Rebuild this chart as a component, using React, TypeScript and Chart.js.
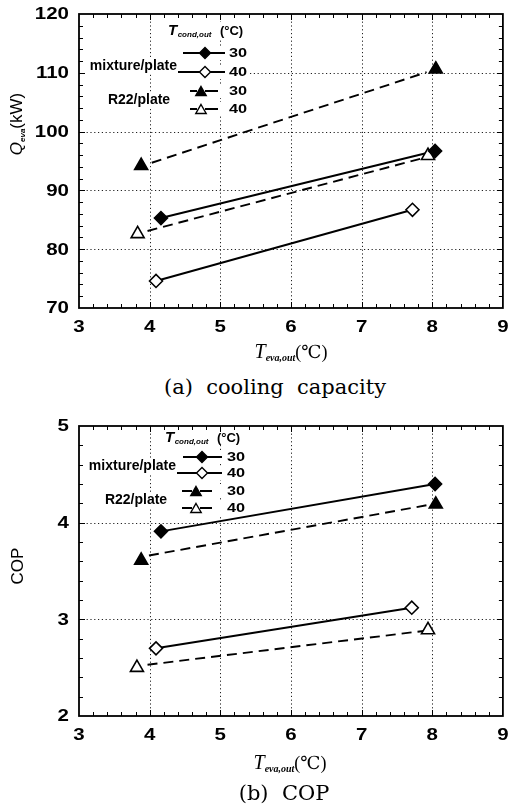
import React, { useEffect, useRef } from "react";
import { Chart, registerables } from "chart.js";

Chart.register(...registerables);

// ---------- (a) cooling capacity: Q_eva (kW) vs T_eva,out (°C) ----------
const capMix30X = [4.16, 8.04];
const capMix30Y = [85.3, 96.7];
const capMix40X = [4.09, 7.72];
const capMix40Y = [74.6, 86.7];
const capR22_30X = [3.88, 8.05];
const capR22_30Y = [94.2, 110.6];
const capR22_40X = [3.83, 7.94];
const capR22_40Y = [82.6, 95.9];
// trend lines drawn through the R22 runs
const capR22_30LineX = [4.03, 7.92];
const capR22_30LineY = [94.7, 110.1];
const capR22_40LineX = [3.97, 7.9];
const capR22_40LineY = [83.1, 95.6];

// ---------- (b) COP vs T_eva,out (°C) ----------
const copMix30X = [4.16, 8.04];
const copMix30Y = [3.91, 4.4];
const copMix40X = [4.09, 7.71];
const copMix40Y = [2.7, 3.12];
const copR22_30X = [3.88, 8.05];
const copR22_30Y = [3.61, 4.19];
const copR22_40X = [3.82, 7.94];
const copR22_40Y = [2.5, 2.89];
const copR22_30LineX = [3.99, 7.92];
const copR22_30LineY = [3.66, 4.18];
const copR22_40LineX = [3.97, 7.88];
const copR22_40LineY = [2.53, 2.88];

// ---------- axes and labels ----------
const xTicks = [3, 4, 5, 6, 7, 8, 9];
const capTicks = [70, 80, 90, 100, 110, 120];
const copTicks = [2, 3, 4, 5];
const xMinorStep = 0.2;
const capMinorStep = 2;
const copMinorStep = 0.2;
const groupLabels = ["mixture/plate", "R22/plate"];
const condTemps = ["30", "40", "30", "40"];
const captionA = "(a)  cooling  capacity";
const captionB = "(b)  COP";

const SANS = '"Liberation Sans", Arial, sans-serif';
const SERIF = '"Liberation Serif", "DejaVu Serif", "Noto Sans CJK KR", serif';
const TICK_FONT = `bold 16px ${SANS}`;
const TICK_STRETCH = 1.28;

type Series = {
  mx: number[];
  my: number[];
  lx: number[];
  ly: number[];
  filled: boolean;
  shape: "rectRot" | "triangle";
  dashed: boolean;
};

const pts = (xs: number[], ys: number[]) => xs.map((x, i) => ({ x, y: ys[i] }));

function buildDatasets(series: Series[]) {
  const markers = series.map((s) => ({
    data: pts(s.mx, s.my),
    showLine: false,
    pointStyle: s.shape,
    pointRadius: s.shape === "triangle" ? 7.5 : 6.5,
    pointBackgroundColor: s.filled ? "#000" : "#fff",
    pointBorderColor: "#000",
    pointBorderWidth: 1.6,
    order: 0,
  }));
  const lines = series.map((s) => ({
    data: pts(s.lx, s.ly),
    showLine: true,
    pointRadius: 0,
    borderColor: "#000",
    borderWidth: s.dashed ? 1.9 : 2,
    borderDash: s.dashed ? [10, 6] : [],
    fill: false,
    order: 1,
  }));
  return [...markers, ...lines];
}

function diamond(ctx: CanvasRenderingContext2D, x: number, y: number, r: number, filled: boolean) {
  ctx.beginPath();
  ctx.moveTo(x, y - r);
  ctx.lineTo(x + r, y);
  ctx.lineTo(x, y + r);
  ctx.lineTo(x - r, y);
  ctx.closePath();
  ctx.fillStyle = filled ? "#000" : "#fff";
  ctx.fill();
  ctx.lineWidth = 1.4;
  ctx.strokeStyle = "#000";
  ctx.stroke();
}

function triangle(ctx: CanvasRenderingContext2D, x: number, y: number, r: number, filled: boolean) {
  const cy = y + 0.25 * r;
  ctx.beginPath();
  ctx.moveTo(x, cy - r);
  ctx.lineTo(x + 0.866 * r, cy + 0.5 * r);
  ctx.lineTo(x - 0.866 * r, cy + 0.5 * r);
  ctx.closePath();
  ctx.fillStyle = filled ? "#000" : "#fff";
  ctx.fill();
  ctx.lineWidth = 1.4;
  ctx.strokeStyle = "#000";
  ctx.stroke();
}

// wide-set label text (horizontal stretch about the anchor point)
function stretchedText(
  ctx: CanvasRenderingContext2D,
  text: string,
  x: number,
  y: number,
  font: string,
  sx: number,
  align: CanvasTextAlign
) {
  ctx.save();
  ctx.translate(x, y);
  ctx.scale(sx, 1);
  ctx.font = font;
  ctx.textAlign = align;
  ctx.textBaseline = "middle";
  ctx.fillStyle = "#000";
  ctx.fillText(text, 0, 0);
  ctx.restore();
}

type Piece = { text: string; font: string; dy: number };

function drawPieces(ctx: CanvasRenderingContext2D, pieces: Piece[], cx: number, cy: number) {
  let total = 0;
  const widths = pieces.map((p) => {
    ctx.font = p.font;
    const w = ctx.measureText(p.text).width;
    total += w;
    return w;
  });
  let x = cx - total / 2;
  ctx.textAlign = "left";
  ctx.textBaseline = "alphabetic";
  ctx.fillStyle = "#000";
  pieces.forEach((p, i) => {
    ctx.font = p.font;
    ctx.fillText(p.text, x, cy + p.dy);
    x += widths[i];
  });
}

type Layout = {
  titleX: number;
  titleY: number;
  rows: number[];
  mixY: number;
  r22Y: number;
  solidStart: number;
  row2Start: number;
  solidEnd: number;
  solidMarker: number;
  dashStart: number;
  dashMarker: number;
  dashEnd: number;
  numX: number;
  mixRight: number;
  r22Center: number;
  yTitle: Piece[];
  yTitleX: number;
  yTitleY: number;
  xTitleX: number;
  xTitleY: number;
};

type PanelCfg = {
  series: Series[];
  yTicks: number[];
  yMinor: number;
  height: number;
  padTop: number;
  padBottom: number;
  layout: Layout;
};

function whiteBox(ctx: CanvasRenderingContext2D, x: number, y: number, w: number, h: number) {
  ctx.fillStyle = "#fff";
  ctx.fillRect(x, y, w, h);
}

function makeDecor(cfg: PanelCfg) {
  const L = cfg.layout;
  const yMin = cfg.yTicks[0];
  const yMax = cfg.yTicks[cfg.yTicks.length - 1];
  const yStep = cfg.yTicks[1] - cfg.yTicks[0];
  const xMin = xTicks[0];
  const xMax = xTicks[xTicks.length - 1];
  return {
    id: "panelDecor",
    beforeDatasetsDraw(chart: any) {
      const { ctx, chartArea: a, scales } = chart;
      const xs = scales.x;
      const ys = scales.y;
      ctx.save();
      ctx.strokeStyle = "#222";
      ctx.lineWidth = 1;
      ctx.setLineDash([1.2, 2.6]);
      for (let i = 1; i < xTicks.length - 1; i++) {
        const px = Math.round(xs.getPixelForValue(xTicks[i])) + 0.5;
        ctx.beginPath();
        ctx.moveTo(px, a.top);
        ctx.lineTo(px, a.bottom);
        ctx.stroke();
      }
      for (let i = 1; i < cfg.yTicks.length - 1; i++) {
        const py = Math.round(ys.getPixelForValue(cfg.yTicks[i])) + 0.5;
        ctx.beginPath();
        ctx.moveTo(a.left, py);
        ctx.lineTo(a.right, py);
        ctx.stroke();
      }
      ctx.restore();
    },
    afterDatasetsDraw(chart: any) {
      const { ctx, chartArea: a, scales } = chart;
      const xs = scales.x;
      const ys = scales.y;
      ctx.save();
      ctx.setLineDash([]);

      // ---- legend ----
      // title: T_cond,out (°C)
      const tFont = `italic bold 15px ${SANS}`;
      const sFont = `italic bold 8px ${SANS}`;
      const cFont = `bold 13px ${SANS}`;
      ctx.textBaseline = "alphabetic";
      ctx.textAlign = "left";
      ctx.font = tFont;
      const wT = ctx.measureText("T").width;
      ctx.font = sFont;
      const wS = ctx.measureText("cond,out").width;
      ctx.font = cFont;
      const wC = ctx.measureText("(°C)").width;
      const base = L.titleY + 5;
      whiteBox(ctx, L.titleX - 2, L.titleY - 8, wT + wS + wC + 12, 16);
      ctx.fillStyle = "#000";
      ctx.font = tFont;
      ctx.fillText("T", L.titleX, base);
      ctx.font = sFont;
      ctx.fillText("cond,out", L.titleX + wT + 0.5, base + 2);
      ctx.font = cFont;
      ctx.fillText("(°C)", L.titleX + wT + wS + 9, base);

      // group labels
      ctx.font = `bold 14px ${SANS}`;
      ctx.textBaseline = "middle";
      whiteBox(ctx, a.left + 1, L.mixY - 8, L.mixRight - a.left, 16);
      ctx.fillStyle = "#000";
      ctx.textAlign = "right";
      ctx.fillText(groupLabels[0], L.mixRight, L.mixY);
      const wR = ctx.measureText(groupLabels[1]).width;
      whiteBox(ctx, L.r22Center - wR / 2 - 3, L.r22Y - 8, wR + 6, 16);
      ctx.fillStyle = "#000";
      ctx.textAlign = "center";
      ctx.fillText(groupLabels[1], L.r22Center, L.r22Y);

      // rows
      const numFont = `bold 13px ${SANS}`;
      cfg.series.forEach((s, i) => {
        const y = L.rows[i];
        const start = s.dashed ? L.dashStart : i === 1 ? L.row2Start : L.solidStart;
        ctx.font = numFont;
        const wN = ctx.measureText(condTemps[i]).width * 1.25;
        whiteBox(ctx, start - 1, y - 7, L.numX + wN + 2 - start, 14);
        ctx.strokeStyle = "#000";
        ctx.lineWidth = 1.8;
        ctx.beginPath();
        if (s.dashed) {
          ctx.moveTo(L.dashStart, y);
          ctx.lineTo(L.dashMarker - 4, y);
          ctx.moveTo(L.dashMarker + 4, y);
          ctx.lineTo(L.dashEnd, y);
        } else {
          ctx.moveTo(start, y);
          ctx.lineTo(L.solidEnd, y);
        }
        ctx.stroke();
        if (s.shape === "rectRot") diamond(ctx, L.solidMarker, y, 5.5, s.filled);
        else triangle(ctx, L.dashMarker, y, 6, s.filled);
        stretchedText(ctx, condTemps[i], L.numX, y + 0.5, numFont, 1.25, "left");
      });

      // ---- inward tick marks and frame ----
      ctx.strokeStyle = "#000";
      ctx.lineWidth = 1;
      const nx = Math.round((xMax - xMin) / xMinorStep);
      for (let k = 1; k < nx; k++) {
        const v = xMin + k * xMinorStep;
        const major = k % Math.round(1 / xMinorStep) === 0;
        const len = major ? 6 : 4;
        const px = Math.round(xs.getPixelForValue(v)) + 0.5;
        ctx.beginPath();
        ctx.moveTo(px, a.bottom);
        ctx.lineTo(px, a.bottom - len);
        ctx.moveTo(px, a.top);
        ctx.lineTo(px, a.top + len);
        ctx.stroke();
      }
      const ny = Math.round((yMax - yMin) / cfg.yMinor);
      const per = Math.round(yStep / cfg.yMinor);
      for (let k = 1; k < ny; k++) {
        const v = yMin + k * cfg.yMinor;
        const major = k % per === 0;
        const len = major ? 6 : 4;
        const py = Math.round(ys.getPixelForValue(v)) + 0.5;
        ctx.beginPath();
        ctx.moveTo(a.left, py);
        ctx.lineTo(a.left + len, py);
        ctx.moveTo(a.right, py);
        ctx.lineTo(a.right - len, py);
        ctx.stroke();
      }
      ctx.lineWidth = 1.8;
      ctx.strokeRect(a.left, a.top, a.right - a.left, a.bottom - a.top);

      // ---- tick labels, placed by the scales ----
      xTicks.forEach((v) => {
        stretchedText(ctx, String(v), xs.getPixelForValue(v), a.bottom + 20, TICK_FONT, TICK_STRETCH, "center");
      });
      cfg.yTicks.forEach((v) => {
        stretchedText(ctx, String(v), a.left - 10, ys.getPixelForValue(v) + 1, TICK_FONT, TICK_STRETCH, "right");
      });

      // ---- axis titles ----
      drawPieces(
        ctx,
        [
          { text: "T", font: `italic 20px ${SERIF}`, dy: 0 },
          { text: "eva,out", font: `italic bold 10px ${SERIF}`, dy: 3 },
          { text: "(℃)", font: `18px ${SERIF}`, dy: 0 },
        ],
        L.xTitleX,
        L.xTitleY + 7
      );
      ctx.save();
      ctx.translate(L.yTitleX, L.yTitleY);
      ctx.rotate(-Math.PI / 2);
      drawPieces(ctx, L.yTitle, 0, 6);
      ctx.restore();

      ctx.restore();
    },
  };
}

const capSeries: Series[] = [
  { mx: capMix30X, my: capMix30Y, lx: capMix30X, ly: capMix30Y, filled: true, shape: "rectRot", dashed: false },
  { mx: capMix40X, my: capMix40Y, lx: capMix40X, ly: capMix40Y, filled: false, shape: "rectRot", dashed: false },
  { mx: capR22_30X, my: capR22_30Y, lx: capR22_30LineX, ly: capR22_30LineY, filled: true, shape: "triangle", dashed: true },
  { mx: capR22_40X, my: capR22_40Y, lx: capR22_40LineX, ly: capR22_40LineY, filled: false, shape: "triangle", dashed: true },
];

const copSeries: Series[] = [
  { mx: copMix30X, my: copMix30Y, lx: copMix30X, ly: copMix30Y, filled: true, shape: "rectRot", dashed: false },
  { mx: copMix40X, my: copMix40Y, lx: copMix40X, ly: copMix40Y, filled: false, shape: "rectRot", dashed: false },
  { mx: copR22_30X, my: copR22_30Y, lx: copR22_30LineX, ly: copR22_30LineY, filled: true, shape: "triangle", dashed: true },
  { mx: copR22_40X, my: copR22_40Y, lx: copR22_40LineX, ly: copR22_40LineY, filled: false, shape: "triangle", dashed: true },
];

const capCfg: PanelCfg = {
  series: capSeries,
  yTicks: capTicks,
  yMinor: capMinorStep,
  height: 370,
  padTop: 14,
  padBottom: 22,
  layout: {
    titleX: 168,
    titleY: 30,
    rows: [53, 72, 91, 109],
    mixY: 66,
    r22Y: 100,
    solidStart: 183,
    row2Start: 178,
    solidEnd: 225,
    solidMarker: 205,
    dashStart: 190,
    dashMarker: 201,
    dashEnd: 218,
    numX: 229,
    mixRight: 177,
    r22Center: 139,
    yTitle: [
      { text: "Q", font: `italic 17px ${SANS}`, dy: 0 },
      { text: "eva", font: `italic bold 8px ${SANS}`, dy: 3 },
      { text: "(kW)", font: `17px ${SANS}`, dy: 0 },
    ],
    yTitleX: 16,
    yTitleY: 124,
    xTitleX: 291,
    xTitleY: 351,
  },
};

const copCfg: PanelCfg = {
  series: copSeries,
  yTicks: copTicks,
  yMinor: copMinorStep,
  height: 385,
  padTop: 26,
  padBottom: 29,
  layout: {
    titleX: 165,
    titleY: 37,
    rows: [57, 73, 91, 108],
    mixY: 66,
    r22Y: 100,
    solidStart: 183,
    row2Start: 177,
    solidEnd: 222,
    solidMarker: 202,
    dashStart: 182,
    dashMarker: 196,
    dashEnd: 212,
    numX: 227,
    mixRight: 176,
    r22Center: 136,
    yTitle: [{ text: "COP", font: `17px ${SANS}`, dy: 0 }],
    yTitleX: 17,
    yTitleY: 166,
    xTitleX: 290,
    xTitleY: 362,
  },
};

function Panel({ cfg, top }: { cfg: PanelCfg; top: number }) {
  const ref = useRef<HTMLCanvasElement>(null);
  useEffect(() => {
    if (!ref.current) return;
    const chart = new Chart(ref.current, {
      type: "scatter",
      data: { datasets: buildDatasets(cfg.series) as any },
      options: {
        animation: false,
        responsive: false,
        maintainAspectRatio: false,
        layout: { padding: { left: 0, right: 4, top: cfg.padTop, bottom: cfg.padBottom } },
        plugins: { legend: { display: false }, tooltip: { enabled: false } },
        scales: {
          x: {
            type: "linear",
            min: xTicks[0],
            max: xTicks[xTicks.length - 1],
            ticks: { stepSize: xTicks[1] - xTicks[0], display: false },
            grid: { display: false, drawTicks: false },
            border: { display: false },
            afterFit: (s: any) => {
              s.height = 40;
              s.paddingLeft = 0;
              s.paddingRight = 0;
            },
          },
          y: {
            type: "linear",
            min: cfg.yTicks[0],
            max: cfg.yTicks[cfg.yTicks.length - 1],
            ticks: { stepSize: cfg.yTicks[1] - cfg.yTicks[0], display: false },
            grid: { display: false, drawTicks: false },
            border: { display: false },
            afterFit: (s: any) => {
              s.width = 79;
              s.paddingTop = 0;
              s.paddingBottom = 0;
            },
          },
        },
      },
      plugins: [makeDecor(cfg)],
    });
    return () => chart.destroy();
  }, [cfg]);
  return (
    <canvas
      ref={ref}
      width={512}
      height={cfg.height}
      style={{ position: "absolute", left: 0, top, width: 512, height: cfg.height }}
    />
  );
}

const captionStyle: React.CSSProperties = {
  position: "absolute",
  fontFamily: '"DejaVu Serif", "Liberation Serif", serif',
  fontSize: 21,
  lineHeight: "26px",
  whiteSpace: "pre",
  textAlign: "center",
  color: "#000",
};

export default function App() {
  return (
    <div
      style={{
        position: "absolute",
        left: 0,
        top: 0,
        width: 512,
        height: 810,
        overflow: "hidden",
        background: "#fff",
      }}
    >
      <Panel cfg={capCfg} top={0} />
      <div style={{ ...captionStyle, left: 0, width: 550, top: 374 }}>{captionA}</div>
      <Panel cfg={copCfg} top={400} />
      <div style={{ ...captionStyle, left: 0, width: 568, top: 780 }}>{captionB}</div>
    </div>
  );
}
